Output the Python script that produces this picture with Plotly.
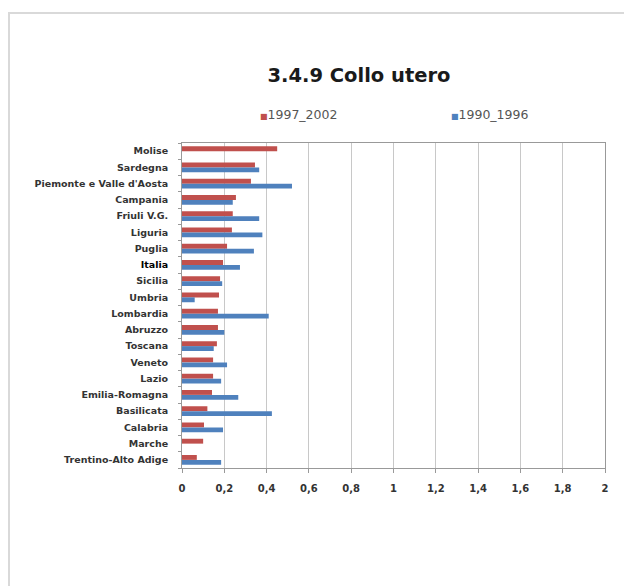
import plotly.graph_objects as go

regioni = [
    "Molise", "Sardegna", "Piemonte e Valle d'Aosta", "Campania", "Friuli V.G.",
    "Liguria", "Puglia", "Italia", "Sicilia", "Umbria", "Lombardia", "Abruzzo",
    "Toscana", "Veneto", "Lazio", "Emilia-Romagna", "Basilicata", "Calabria",
    "Marche", "Trentino-Alto Adige",
]
val_1997_2002 = [0.45, 0.345, 0.326, 0.255, 0.24, 0.236, 0.213, 0.194, 0.18, 0.175,
                 0.17, 0.17, 0.165, 0.147, 0.147, 0.142, 0.12, 0.104, 0.1, 0.07]
val_1990_1996 = [None, 0.365, 0.52, 0.24, 0.365, 0.38, 0.34, 0.274, 0.19, 0.06,
                 0.41, 0.2, 0.15, 0.213, 0.185, 0.266, 0.425, 0.194, None, 0.185]
x_ticks = [0, 0.2, 0.4, 0.6, 0.8, 1, 1.2, 1.4, 1.6, 1.8, 2]
x_labels = ["0", "0,2", "0,4", "0,6", "0,8", "1", "1,2", "1,4", "1,6", "1,8", "2"]

RED = "#c0504d"
BLUE = "#4f81bd"

# page body has an 8px margin, so figure coords = screen coords - 8
OFF = 8
L, R, T, B = 182 - OFF, 605 - OFF, 143 - OFF, 468 - OFF
W, H = 632, 586

tick_text = [f"<span style='color:#000'>{r}</span>" if r == "Italia" else r for r in regioni]

fig = go.Figure()
fig.add_trace(go.Bar(y=regioni, x=val_1997_2002, orientation="h", name="1997_2002",
                     marker=dict(color=RED, line=dict(width=0))))
fig.add_trace(go.Bar(y=regioni, x=val_1990_1996, orientation="h", name="1990_1996",
                     marker=dict(color=BLUE, line=dict(width=0))))

fig.update_layout(
    width=W, height=H,
    margin=dict(l=L, r=W - R, t=T, b=H - B),
    paper_bgcolor="white", plot_bgcolor="white",
    barmode="group", bargap=0.4, bargroupgap=0,
    showlegend=False,
    title=dict(text="<b>3.4.9 Collo utero</b>", x=(359 - OFF) / W, xanchor="center",
               y=1 - (75 - OFF) / H, yanchor="middle",
               font=dict(family="DejaVu Sans", size=19.5, color="#1a1a1a")),
    font=dict(family="DejaVu Sans", color="#333"),
)

fig.update_xaxes(
    range=[0, 2], tickvals=x_ticks, ticktext=x_labels,
    showgrid=True, gridcolor="#c8c8c8", gridwidth=1,
    showline=True, linecolor="#999", linewidth=1, mirror=True,
    ticks="outside", ticklen=4, tickcolor="#999", ticklabelstandoff=7,
    tickfont=dict(family="DejaVu Sans", size=10, color="#333", weight="bold"),
    zeroline=False, fixedrange=True,
)
fig.update_yaxes(
    autorange="reversed", tickvals=regioni, ticktext=tick_text,
    showline=True, linecolor="#999", linewidth=1, mirror=True,
    ticks="outside", ticklen=3, tickcolor="#999", tickson="boundaries",
    ticklabelstandoff=11,
    tickfont=dict(family="DejaVu Sans", size=9.5, color="#333", weight="bold"),
    showgrid=False, fixedrange=True,
)

# legend written as text, as in the original
for label, color, px in [("1997_2002", RED, 258), ("1990_1996", BLUE, 449)]:
    fig.add_annotation(
        text=f"<span style='color:{color};font-size:8px'>■</span>{label}",
        xref="paper", yref="paper",
        x=(px - OFF - L) / (R - L), y=(B - (114 - OFF)) / (B - T),
        xanchor="left", yanchor="middle", showarrow=False,
        font=dict(family="DejaVu Sans", size=12.5, color="#555"),
    )

# outer chart frame
fig.add_shape(type="rect", xref="paper", yref="paper",
              x0=(9 - OFF - L) / (R - L), x1=(631 - OFF - L) / (R - L),
              y0=(B - (592 - OFF)) / (B - T), y1=(B - (13 - OFF)) / (B - T),
              line=dict(color="#d9d9d9", width=2), layer="below")

fig.write_html("out.html")
